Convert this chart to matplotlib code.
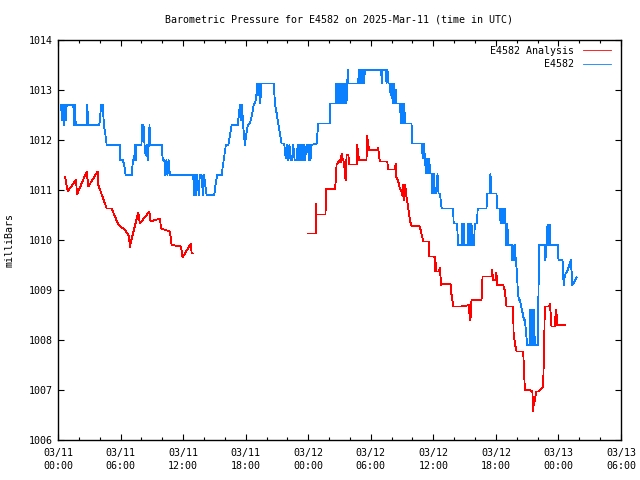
import numpy as np
import matplotlib
matplotlib.use("Agg")
import matplotlib.pyplot as plt
from matplotlib.ticker import MultipleLocator, FixedLocator

# hours since 2025-03-11 00:00 UTC
obs_t = [0.29, 0.40, 0.50, 0.55, 0.65, 0.75, 0.83, 1.47, 1.55, 1.62, 1.70, 2.75, 2.80, 2.91,
         3.96, 4.05, 4.15, 4.30, 4.40, 4.55, 4.67, 5.94, 5.95, 6.20, 6.35, 6.49, 7.06, 7.20,
         7.30, 7.40, 7.45, 7.54, 8.00, 8.09, 8.15, 8.20, 8.30, 8.40, 8.50, 8.60, 8.70, 8.78,
         8.82, 9.46, 9.94, 10.05, 10.20, 10.30, 10.40, 10.50, 10.60, 10.74, 12.97, 13.05,
         13.15, 13.25, 13.35, 13.50, 13.60, 13.77, 13.90, 14.00, 14.25, 14.99, 15.10, 15.28,
         15.69, 15.90, 16.10, 16.33, 16.50, 16.65, 17.23, 17.35, 17.45, 17.55, 17.65, 17.75,
         17.93, 18.05, 18.20, 18.41, 18.60, 18.80, 18.90, 19.05, 19.10, 19.20, 19.30, 19.40,
         19.50, 19.69, 20.71, 20.80, 21.00, 21.13, 21.30, 21.45, 21.70, 21.80, 21.92, 22.00,
         22.10, 22.20, 22.30, 22.45, 22.56, 22.70, 22.90, 22.98, 23.06, 23.14, 23.20, 23.27,
         23.35, 23.43, 23.50, 23.58, 23.70, 23.84, 23.95, 24.09, 24.15, 24.22, 24.32, 24.80,
         24.96, 26.08, 26.10, 26.65, 26.70, 26.78, 26.85, 26.91, 26.97, 27.03, 27.10, 27.19,
         27.27, 27.35, 27.43, 27.51, 27.60, 27.67, 27.74, 27.80, 27.86, 28.79, 28.85, 28.90,
         28.97, 29.05, 29.12, 29.20, 29.28, 29.35, 29.43, 31.00, 31.05, 31.10, 31.45, 31.51,
         31.60, 31.70, 31.83, 31.90, 32.00, 32.10, 32.20, 32.30, 32.40, 32.47, 32.80, 32.90,
         33.00, 33.11, 33.20, 33.30, 33.43, 33.91, 33.95, 34.87, 35.00, 35.10, 35.19, 35.30,
         35.40, 35.50, 35.60, 35.70, 35.83, 35.90, 35.95, 36.00, 36.05, 36.15, 36.30, 36.40,
         36.50, 36.63, 36.80, 36.95, 37.90, 37.95, 38.28, 38.37, 38.75, 38.79, 38.85, 38.92,
         38.98, 39.30, 39.34, 39.42, 39.50, 39.58, 39.66, 39.74, 39.90, 39.98, 40.20, 40.25,
         41.10, 41.15, 41.40, 41.48, 41.55, 42.06, 42.12, 42.38, 42.45, 42.55, 42.65, 42.75,
         42.85, 42.90, 42.95, 43.00, 43.10, 43.18, 43.50, 43.55, 43.60, 43.70, 43.80, 43.91,
         44.00, 44.10, 44.20, 44.30, 44.50, 44.70, 44.78, 45.00, 45.26, 45.30, 45.38, 45.46,
         45.54, 45.62, 45.74, 46.05, 46.08, 46.15, 46.69, 46.75, 46.85, 46.95, 47.00, 47.05,
         47.12, 47.18, 47.24, 47.97, 48.00, 48.39, 48.50, 48.62, 48.90, 49.05, 49.19, 49.34,
         49.50, 49.73]
obs_p = [1012.7, 1012.4, 1012.7, 1012.3, 1012.7, 1012.4, 1012.7, 1012.7, 1012.3, 1012.7, 1012.3,
         1012.3, 1012.7, 1012.3, 1012.3, 1012.5, 1012.7, 1012.7, 1012.3, 1012.1, 1011.9, 1011.9,
         1011.6, 1011.6, 1011.5, 1011.3, 1011.3, 1011.6, 1011.6, 1011.9, 1011.6, 1011.9, 1011.9,
         1012.3, 1012.1, 1012.3, 1011.9, 1011.7, 1011.9, 1011.6, 1011.9, 1012.3, 1011.9, 1011.9,
         1011.9, 1011.6, 1011.6, 1011.3, 1011.6, 1011.3, 1011.6, 1011.3, 1011.3, 1010.9, 1011.3,
         1010.9, 1011.3, 1010.9, 1011.3, 1011.3, 1010.9, 1011.3, 1010.9, 1010.9, 1011.1, 1011.3,
         1011.3, 1011.6, 1011.9, 1011.9, 1012.1, 1012.3, 1012.3, 1012.5, 1012.7, 1012.4, 1012.7,
         1012.3, 1011.9, 1012.1, 1012.3, 1012.33, 1012.5, 1012.73, 1012.73, 1012.93, 1013.13,
         1012.9, 1013.13, 1012.73, 1013.13, 1013.13, 1013.13, 1012.73, 1012.5, 1012.33, 1012.1,
         1011.93, 1011.93, 1011.7, 1011.63, 1011.9, 1011.6, 1011.9, 1011.6, 1011.6, 1011.9,
         1011.6, 1011.6, 1011.9, 1011.6, 1011.9, 1011.6, 1011.9, 1011.6, 1011.9, 1011.6, 1011.9,
         1011.6, 1011.9, 1011.9, 1011.6, 1011.9, 1011.6, 1011.9, 1011.93, 1012.33, 1012.33,
         1012.73, 1012.73, 1013.13, 1012.73, 1013.13, 1012.73, 1013.13, 1012.73, 1013.13,
         1012.73, 1013.13, 1012.73, 1013.13, 1012.73, 1013.13, 1012.73, 1013.13, 1013.4,
         1013.13, 1013.13, 1013.4, 1013.13, 1013.4, 1013.13, 1013.4, 1013.13, 1013.4, 1013.13,
         1013.4, 1013.4, 1013.13, 1013.4, 1013.4, 1013.13, 1013.4, 1013.13, 1013.13, 1012.9,
         1013.13, 1012.73, 1013.13, 1012.73, 1013.0, 1012.73, 1012.73, 1012.33, 1012.73, 1012.33,
         1012.73, 1012.33, 1012.33, 1012.33, 1011.93, 1011.93, 1011.63, 1011.93, 1011.63,
         1011.33, 1011.63, 1011.33, 1011.63, 1011.33, 1011.33, 1010.93, 1011.33, 1010.93,
         1011.33, 1010.93, 1010.93, 1011.33, 1010.93, 1010.93, 1010.63, 1010.63, 1010.63,
         1010.33, 1010.33, 1009.9, 1009.9, 1010.33, 1009.9, 1010.33, 1009.9, 1009.9, 1010.33,
         1009.9, 1010.33, 1009.9, 1010.33, 1009.9, 1009.9, 1010.33, 1010.33, 1010.63, 1010.63,
         1010.93, 1010.93, 1011.33, 1010.93, 1010.93, 1010.63, 1010.63, 1010.33, 1010.63,
         1010.33, 1010.63, 1010.33, 1010.63, 1009.9, 1010.33, 1010.33, 1009.9, 1009.9, 1009.6,
         1009.9, 1009.6, 1009.9, 1009.6, 1009.4, 1009.0, 1008.8, 1008.8, 1008.6, 1008.4, 1008.4,
         1007.9, 1007.9, 1008.6, 1007.9, 1008.6, 1007.9, 1008.6, 1007.9, 1007.9, 1008.9, 1009.9,
         1009.9, 1009.6, 1009.9, 1010.3, 1009.9, 1010.3, 1009.9, 1010.3, 1009.9, 1009.9, 1009.6,
         1009.6, 1009.1, 1009.3, 1009.4, 1009.5, 1009.6, 1009.1, 1009.15, 1009.25]

ana_t = [0.67, 0.93, 1.73, 1.82, 2.75, 2.91, 3.80, 3.87, 4.67, 5.15, 5.78, 6.42, 6.81, 6.90, 7.00,
         7.70, 7.86, 8.76, 8.88, 9.78, 9.88, 10.74, 10.90, 11.79, 11.95, 12.75, 12.82, 12.98,
         18.0,
         23.99, 24.74, 24.78, 24.80, 25.66, 25.70, 26.56, 26.65, 26.72, 27.00, 27.10, 27.20, 27.30,
         27.45, 27.50, 27.60, 27.68, 27.85, 27.93, 28.65, 28.70, 28.80, 28.89, 29.59, 29.65, 29.75,
         29.85, 30.62, 30.70, 30.87, 31.58, 31.67, 32.31, 32.40, 32.45, 32.60, 32.79, 32.95, 33.05,
         33.10, 33.20, 33.30, 33.40, 33.55, 33.75, 33.91, 34.64, 34.75, 35.03, 35.55, 35.62, 36.10,
         36.15, 36.20, 36.24, 36.55, 36.63, 36.75, 36.88, 37.65, 37.70, 37.80, 37.90, 38.70, 39.44,
         39.48, 39.52, 39.56, 39.66, 40.62, 40.72, 41.58, 41.65, 41.72, 42.00, 42.05, 42.12, 42.70,
         42.85, 43.02, 43.65, 43.70, 43.85, 43.98, 44.62, 44.70, 44.78, 45.26, 45.50, 45.58, 45.65,
         45.74, 45.85, 46.05, 46.37, 46.53, 46.63, 46.69, 47.11, 47.17, 47.24, 47.33, 47.65, 47.75,
         47.81, 47.90, 48.67]
ana_p = [1011.27, 1010.97, 1011.21, 1010.91, 1011.37, 1011.07, 1011.37, 1011.10, 1010.63, 1010.63,
         1010.31, 1010.20, 1010.08, 1009.85, 1009.97, 1010.55, 1010.33, 1010.57, 1010.37, 1010.43,
         1010.23, 1010.17, 1009.90, 1009.87, 1009.65, 1009.93, 1009.73, 1009.73,
         np.nan,
         1010.13, 1010.13, 1010.72, 1010.51, 1010.51, 1011.02, 1011.02, 1011.20, 1011.51, 1011.60,
         1011.55, 1011.72, 1011.62, 1011.55, 1011.32, 1011.20, 1011.71, 1011.71, 1011.51, 1011.51,
         1011.91, 1011.70, 1011.60, 1011.60, 1012.08, 1011.90, 1011.80, 1011.80, 1011.85, 1011.57,
         1011.57, 1011.41, 1011.41, 1011.53, 1011.25, 1011.20, 1011.03, 1010.97, 1010.87, 1011.10,
         1010.80, 1011.10, 1010.90, 1010.70, 1010.40, 1010.28, 1010.28, 1010.23, 1009.97, 1009.97,
         1009.67, 1009.67, 1009.37, 1009.67, 1009.37, 1009.37, 1009.44, 1009.10, 1009.12, 1009.12,
         1008.95, 1008.85, 1008.67, 1008.67, 1008.70, 1008.39, 1008.60, 1008.39, 1008.80, 1008.80,
         1009.27, 1009.27, 1009.40, 1009.20, 1009.20, 1009.35, 1009.10, 1009.10, 1009.00, 1008.67,
         1008.67, 1008.13, 1007.90, 1007.77, 1007.77, 1007.40, 1007.00, 1007.00, 1006.97, 1006.57,
         1006.80, 1006.77, 1006.97, 1006.97, 1007.03, 1007.07, 1007.87, 1008.67, 1008.67, 1008.73,
         1008.57, 1008.27, 1008.27, 1008.60, 1008.55, 1008.30, 1008.30]

xtick_hours = [0, 6, 12, 18, 24, 30, 36, 42, 48, 54]
xtick_labels = ["03/11\n00:00", "03/11\n06:00", "03/11\n12:00", "03/11\n18:00", "03/12\n00:00",
                "03/12\n06:00", "03/12\n12:00", "03/12\n18:00", "03/13\n00:00", "03/13\n06:00"]
yticks = [1006, 1007, 1008, 1009, 1010, 1011, 1012, 1013, 1014]

plt.rcParams['font.family'] = ['DejaVu Sans Mono']
fs = 7.2

fig = plt.figure(figsize=(6.4, 4.8), dpi=100)
ax = fig.add_axes([58/640, 1-440/480, (621-58)/640, 400/480])

ax.plot(ana_t, ana_p, color='#ff0000', lw=0.6, label='E4582 Analysis', antialiased=False)
ax.plot(obs_t, obs_p, color='#0a80ff', lw=0.6, label='E4582', antialiased=False)

ax.set_xlim(0, 54)
ax.set_ylim(1006, 1014)
ax.xaxis.set_major_locator(FixedLocator(xtick_hours))
ax.set_xticklabels(xtick_labels, fontsize=fs, linespacing=1.35)
ax.xaxis.set_minor_locator(MultipleLocator(2))
ax.set_yticks(yticks)
ax.set_yticklabels([str(v) for v in yticks], fontsize=fs)
ax.tick_params(axis='both', which='major', direction='in', length=4.5, width=0.8,
               top=True, right=True, color='black')
ax.tick_params(axis='x', which='major', pad=6)
ax.tick_params(axis='y', which='major', pad=4)
ax.tick_params(axis='x', which='minor', direction='in', length=2.5, width=0.8, top=True)
for s in ax.spines.values():
    s.set_linewidth(1.0)

ax.set_ylabel('milliBars', fontsize=fs)
ax.yaxis.set_label_coords(-(58-15)/563, 0.5)
fig.text(339/640, 1-19/480, 'Barometric Pressure for E4582 on 2025-Mar-11 (time in UTC)',
         ha='center', va='center', fontsize=fs)

leg = ax.legend(loc='upper right', bbox_to_anchor=(1 - 10/563, 1 - 6/400),
                frameon=False, markerfirst=False, fontsize=fs,
                handlelength=2.8, handletextpad=0.9, labelspacing=0.35,
                borderaxespad=0.0, borderpad=0.0)

fig.savefig('out.png', dpi=100)
